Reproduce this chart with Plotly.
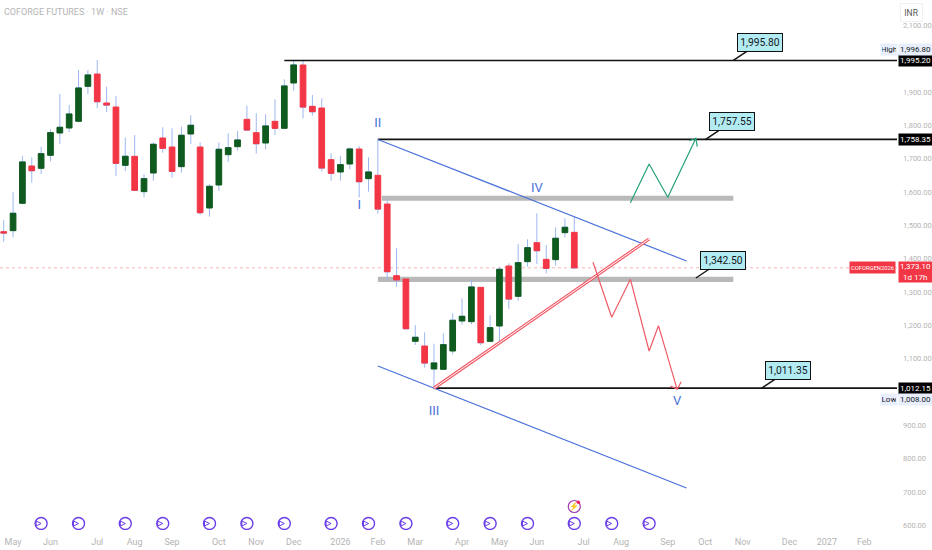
import pandas as pd
import plotly.graph_objects as go

# weekly bars, 28 Apr 2025 .. 29 Jun 2026
weeks = pd.date_range("2025-04-28", periods=62, freq="7D")
opens = [1481.5, 1484.5, 1566.5, 1678.5, 1671.5, 1710.5, 1777.5, 1792.5, 1812.5, 1917.5,
         1954.5, 1867.5, 1855.5, 1680.5, 1707.5, 1601.5, 1657.5, 1762.5, 1735.5, 1676.5,
         1774.5, 1735.5, 1552.5, 1621.5, 1712.5, 1736.5, 1818.5, 1778.5, 1747.5, 1812.5,
         1791.5, 1927.5, 1981.5, 1857.5, 1852.5, 1697.5, 1660.5, 1684.5, 1729.5, 1640.5,
         1650.5, 1564.5, 1349.5, 1339.5, 1152.5, 1138.5, 1069.5, 1068.5, 1123.5, 1213.5,
         1211.5, 1314.5, 1152.5, 1198.5, 1378.5, 1287.5, 1391.5, 1448.5, 1398.5, 1397.5,
         1478.5, 1479.5]
highs = [1516.5, 1599.5, 1708.5, 1704.5, 1736.5, 1788.5, 1894.5, 1861.5, 1966.5, 1966.5,
         1996.5, 1916.5, 1888.5, 1763.5, 1771.5, 1653.5, 1749.5, 1794.5, 1791.5, 1796.5,
         1830.5, 1749.5, 1623.5, 1749.5, 1776.5, 1783.5, 1859.5, 1836.5, 1833.5, 1878.5,
         1938.5, 1994.5, 1996.8, 1891.5, 1881.5, 1716.5, 1708.5, 1733.5, 1738.5, 1704.5,
         1756.5, 1579.5, 1431.5, 1341.0, 1201.5, 1179.5, 1145.5, 1176.5, 1236.5, 1281.5,
         1336.5, 1315.5, 1230.5, 1374.5, 1386.5, 1444.5, 1458.5, 1536.5, 1441.5, 1494.5,
         1521.5, 1526.5]
lows = [1451.0, 1464.5, 1564.0, 1628.5, 1654.5, 1692.5, 1744.5, 1780.5, 1810.0, 1894.5,
        1852.5, 1840.5, 1648.5, 1663.5, 1603.5, 1584.5, 1634.5, 1718.5, 1643.5, 1658.5,
        1744.5, 1532.5, 1526.5, 1603.5, 1690.5, 1724.5, 1786.0, 1715.5, 1728.5, 1771.5,
        1790.0, 1904.5, 1821.5, 1829.5, 1661.5, 1634.5, 1634.5, 1668.5, 1584.5, 1601.5,
        1535.5, 1336.5, 1316.5, 1189.5, 1141.5, 1073.5, 1008.0, 1066.5, 1113.5, 1202.5,
        1203.5, 1140.5, 1150.5, 1144.5, 1249.5, 1274.5, 1376.5, 1384.5, 1356.5, 1379.5,
        1464.5, 1371.0]
closes = [1477.5, 1536.5, 1690.5, 1664.5, 1715.5, 1778.5, 1794.5, 1834.5, 1912.5, 1951.5,
          1871.5, 1861.5, 1686.5, 1707.5, 1605.5, 1640.5, 1743.5, 1731.5, 1662.5, 1770.5,
          1800.5, 1538.5, 1617.5, 1728.5, 1733.5, 1756.5, 1786.5, 1745.5, 1798.5, 1791.5,
          1918.5, 1981.5, 1855.5, 1841.5, 1672.5, 1656.5, 1682.5, 1729.5, 1631.5, 1660.5,
          1549.5, 1361.5, 1336.5, 1190.5, 1164.5, 1087.5, 1087.5, 1142.5, 1215.5, 1227.5,
          1315.5, 1148.5, 1193.5, 1368.5, 1279.5, 1388.5, 1433.5, 1424.5, 1371.5, 1461.5,
          1494.5, 1373.1]

body_tops = [max(o, c) for o, c in zip(opens, closes)]
body_bottoms = [min(o, c) for o, c in zip(opens, closes)]

# drawings
last_price = 1373.10
level_prices = [1995.20, 1758.35, 1012.15]
level_starts = ["2025-11-24", "2026-02-02", "2026-03-16"]

upper_x = ["2026-02-02", "2026-09-21"]
upper_y = [1758.0, 1393.5]
lower_x = ["2026-02-02", "2026-09-21"]
lower_y = [1078.5, 712.5]

band_x0 = ["2026-02-05", "2026-02-02"]
band_x1 = ["2026-10-26", "2026-10-26"]
band_y0 = [1574.0, 1330.5]
band_y1 = [1589.5, 1346.5]

trend_x = ["2026-03-16", "2026-08-24"]
trend_y = [1012.0, 1459.5]

red_x = ["2026-07-13", "2026-07-27", "2026-08-10", "2026-08-24", "2026-08-31", "2026-09-14",
         "2026-09-09", "2026-09-14", "2026-09-17"]
red_y = [1389.6, 1224.6, 1338.6, 1123.5, 1199.4, 1008.6, 1018.5, 1008.6, 1031.4]

green_x = ["2026-08-10", "2026-08-24", "2026-09-07", "2026-09-28", "2026-09-23", "2026-09-28", "2026-09-29"]
green_y = [1568.4, 1684.5, 1584.6, 1761.6, 1754.4, 1761.6, 1736.4]

wave_labels = ["I", "II", "III", "IV", "V"]
wave_x = ["2026-01-19", "2026-02-02", "2026-03-16", "2026-06-01", "2026-09-14"]
wave_y = [1558.0, 1804.0, 940.0, 1609.0, 970.0]

callout_labels = ["1,995.80", "1,757.55", "1,342.50", "1,011.35"]
callout_x = ["2026-10-26", "2026-10-05", "2026-09-28", "2026-11-16"]
callout_y = [1995.2, 1757.55, 1342.5, 1011.35]

event_x = ["2025-05-26", "2025-06-23", "2025-07-28", "2025-08-25", "2025-09-29", "2025-10-27",
           "2025-11-24", "2025-12-29", "2026-01-26", "2026-02-23", "2026-03-30", "2026-04-27",
           "2026-05-25", "2026-06-29", "2026-07-27", "2026-08-24"]
event_level = 606
flash_x = "2026-06-29"
flash_level = 657
flash_dot_x = "2026-07-02"
flash_dot_level = 670

tick_dates = ["2025-05-05", "2025-06-02", "2025-07-07", "2025-08-04", "2025-09-01", "2025-10-06",
              "2025-11-03", "2025-12-01", "2026-01-05", "2026-02-02", "2026-03-02", "2026-04-06",
              "2026-05-04", "2026-06-01", "2026-07-06", "2026-08-03", "2026-09-07", "2026-10-05",
              "2026-11-02", "2026-12-07", "2027-01-04", "2027-02-01"]
tick_names = ["May", "Jun", "Jul", "Aug", "Sep", "Oct", "Nov", "Dec", "2026", "Feb", "Mar", "Apr",
              "May", "Jun", "Jul", "Aug", "Sep", "Oct", "Nov", "Dec", "2027", "Feb"]
# 2,000 and 1,000 are hidden behind the tags in the original
price_ticks = [2100, 1900, 1800, 1700, 1600, 1500, 1400, 1300, 1200, 1100, 900, 800, 700, 600]

FONT = "Liberation Sans Narrow, Roboto"
GREY = "#b4b4b4"
BLUE = "#4a72d9"
RED = "#f23645"
DARK_GREEN = "#0f5a1f"
PURPLE = "#6a3de8"

fig = go.Figure()

for x0, x1, y0, y1 in zip(band_x0, band_x1, band_y0, band_y1):
    fig.add_shape(type="rect", x0=x0, x1=x1, y0=y0, y1=y1, fillcolor="#b9b9b9",
                  line_width=0, layer="below")

fig.add_shape(type="line", xref="paper", x0=0, x1=1, y0=last_price, y1=last_price,
              line=dict(color="#f9b4ba", width=1, dash="dot"), layer="below")

# wicks first, then bodies on top (wicks are a different colour from the bodies)
fig.add_trace(go.Candlestick(
    x=weeks, open=closes, high=highs, low=lows, close=closes, whiskerwidth=0,
    increasing=dict(line=dict(color="#9db8f0", width=1), fillcolor="#9db8f0"),
    decreasing=dict(line=dict(color="#9db8f0", width=1), fillcolor="#9db8f0"),
))
fig.add_trace(go.Candlestick(
    x=weeks, open=opens, high=body_tops, low=body_bottoms, close=closes, whiskerwidth=0,
    increasing=dict(line=dict(color=DARK_GREEN, width=1), fillcolor=DARK_GREEN),
    decreasing=dict(line=dict(color=RED, width=1), fillcolor=RED),
))

for start, price in zip(level_starts, level_prices):
    fig.add_trace(go.Scatter(x=[start, "2027-02-25 12:00"], y=[price, price], mode="lines",
                             line=dict(color="#131313", width=1.6)))

fig.add_trace(go.Scatter(x=upper_x, y=upper_y, mode="lines", line=dict(color=BLUE, width=1.2)))
fig.add_trace(go.Scatter(x=lower_x, y=lower_y, mode="lines", line=dict(color=BLUE, width=1.2)))

fig.add_trace(go.Scatter(x=trend_x, y=trend_y, mode="lines", line=dict(color="#ef5a67", width=3.2)))
fig.add_trace(go.Scatter(x=trend_x, y=trend_y, mode="lines", line=dict(color="white", width=1)))

fig.add_trace(go.Scatter(x=red_x, y=red_y, mode="lines", line=dict(color="#ef5a67", width=1.2)))
fig.add_trace(go.Scatter(x=green_x, y=green_y, mode="lines", line=dict(color="#26a17b", width=1.2)))

fig.add_trace(go.Scatter(x=wave_x, y=wave_y, mode="text", text=wave_labels,
                         textfont=dict(family=FONT, size=13, color=BLUE)))

fig.add_trace(go.Scatter(x=event_x, y=[event_level] * len(event_x), mode="markers",
                         marker=dict(symbol="circle-open", size=12, color=PURPLE, line=dict(width=1.4))))
fig.add_trace(go.Scatter(x=event_x, y=[event_level] * len(event_x), mode="markers",
                         marker=dict(symbol="arrow-right-open", size=5, color=PURPLE, line=dict(width=1))))
fig.add_trace(go.Scatter(x=[flash_x], y=[flash_level], mode="markers+text", text=["⚡"],
                         textposition="middle center", textfont=dict(size=8, color="#a03cb0"),
                         marker=dict(symbol="circle-open", size=12, color="#a03cb0", line=dict(width=1.2))))
fig.add_trace(go.Scatter(x=[flash_dot_x], y=[flash_dot_level], mode="markers",
                         marker=dict(size=3.5, color="#e91e63")))

for x, y, label in zip(callout_x, callout_y, callout_labels):
    fig.add_annotation(x=x, y=y, text=label, ax=27, ay=-18, showarrow=True, arrowhead=0,
                       arrowwidth=1.4, arrowcolor="#111111", bgcolor="#b2ebf2", bordercolor="#111111",
                       borderwidth=1, borderpad=2, width=40, height=13,
                       font=dict(family=FONT, size=10.3, color="#131722"))

# price scale tags
for price in level_prices:
    fig.add_annotation(xref="paper", x=1, y=price, xanchor="left", xshift=1, showarrow=False,
                       text=f"{price:,.2f}", bgcolor="#000000", width=31, height=9,
                       font=dict(family=FONT, size=8, color="white"))

fig.add_annotation(xref="paper", x=1, y=last_price, xanchor="left", xshift=1, yshift=-4, showarrow=False,
                   text=f"{last_price:,.2f}<br>1d 17h", bgcolor=RED, width=31, height=18,
                   font=dict(family=FONT, size=8, color="white"))
fig.add_annotation(xref="paper", x=1, y=last_price, xanchor="right", xshift=-1, showarrow=False,
                   text="COFORGEN2026", bgcolor=RED, width=45, height=11, borderpad=0,
                   font=dict(family=FONT, size=5.8, color="white"))

fig.add_annotation(xref="paper", x=1, y=1996.8, xanchor="left", xshift=1, yshift=10, showarrow=False,
                   text="1,996.80", bgcolor="#e8eefb", width=31, height=9,
                   font=dict(family=FONT, size=8, color="#131722"))
fig.add_annotation(xref="paper", x=1, y=1996.8, xanchor="right", xshift=1, yshift=10, showarrow=False,
                   text="High", bgcolor="#e8eefb", width=14, height=9,
                   font=dict(family=FONT, size=8, color="#131722"))
fig.add_annotation(xref="paper", x=1, y=1008.0, xanchor="left", xshift=1, yshift=-10, showarrow=False,
                   text="1,008.00", bgcolor="#e8eefb", width=31, height=9,
                   font=dict(family=FONT, size=8, color="#131722"))
fig.add_annotation(xref="paper", x=1, y=1008.0, xanchor="right", xshift=1, yshift=-10, showarrow=False,
                   text="Low", bgcolor="#e8eefb", width=14, height=9,
                   font=dict(family=FONT, size=8, color="#131722"))

fig.add_annotation(xref="paper", yref="paper", x=1, y=1, xanchor="left", yanchor="top", xshift=3, yshift=-3,
                   showarrow=False, text="INR", width=19, height=15, bordercolor="#f0f0f0", borderwidth=1,
                   font=dict(family=FONT, size=8.5, color="#555555"))
fig.add_annotation(xref="paper", yref="paper", x=0, y=1, xanchor="left", yanchor="top", xshift=2, yshift=-5,
                   showarrow=False, text="COFORGE FUTURES · 1W · NSE",
                   font=dict(family=FONT, size=9, color=GREY))

fig.update_layout(
    width=932,
    height=550,
    margin=dict(l=0, r=35, t=0, b=20),
    plot_bgcolor="white",
    paper_bgcolor="white",
    showlegend=False,
    hovermode=False,
    boxmode="overlay",
    boxgap=0.39,
    boxgroupgap=0,
    font=dict(family=FONT, size=9, color=GREY),
)
fig.update_xaxes(
    type="date",
    range=["2025-04-25 05:30", "2027-02-25 12:00"],
    rangeslider_visible=False,
    automargin=False,
    tickmode="array",
    tickvals=tick_dates,
    ticktext=tick_names,
    ticklabelstandoff=5,
    showgrid=False,
    zeroline=False,
    showline=False,
    ticks="",
)
fig.update_yaxes(
    side="right",
    range=[586.5, 2176.5],
    automargin=False,
    tickmode="array",
    tickvals=price_ticks,
    tickformat=",.2f",
    tickfont=dict(size=7.5),
    ticklabelstandoff=5,
    showgrid=False,
    zeroline=False,
    showline=False,
    ticks="",
)

# the page's default body margin would push the figure 8px down and right
fig.write_html("out.html", config={"displayModeBar": False},
               post_script="document.body.style.margin='0';document.body.style.overflow='hidden';")
